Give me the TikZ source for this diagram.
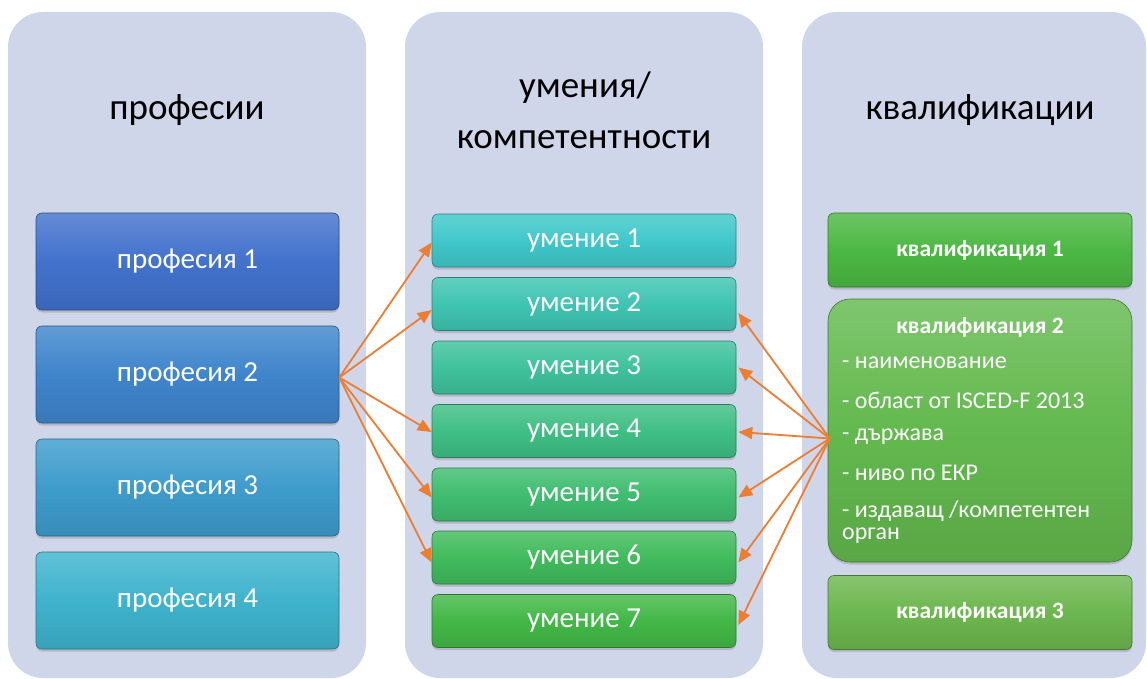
\documentclass[tikz,border=0pt]{standalone}
\usepackage{fontspec}
\setmainfont{Carlito}
\usetikzlibrary{arrows.meta,shadows,calc}
\definecolor{panelc}{HTML}{D0D6EA}
\definecolor{cp1}{HTML}{4272CC}
\definecolor{cp2}{HTML}{3F85CC}
\definecolor{cp3}{HTML}{3E9CCC}
\definecolor{cp4}{HTML}{3FB3CD}
\definecolor{cu1}{HTML}{40C8CA}
\definecolor{cu2}{HTML}{3FC4B3}
\definecolor{cu3}{HTML}{3FC29C}
\definecolor{cu4}{HTML}{3FBF85}
\definecolor{cu5}{HTML}{3FBD70}
\definecolor{cu6}{HTML}{41BB5C}
\definecolor{cu7}{HTML}{42B847}
\definecolor{cq1}{HTML}{4CB843}
\definecolor{cq2}{HTML}{63B94E}
\definecolor{cq3}{HTML}{6DB74F}
\definecolor{arr}{HTML}{ED7D31}
\tikzset{
  panel/.style={fill=panelc, rounded corners=35pt, inner sep=0pt},
  gbox/.style={rounded corners=6pt, top color=#1!82!white, bottom color=#1!90!black,
    middle color=#1, draw=#1!65!black, line width=0.6pt, text=white,
    drop shadow={shadow xshift=0pt, shadow yshift=-2.5pt, opacity=0.35}},
  pbox/.style={gbox=#1, minimum width=303pt, minimum height=97pt,
    font=\fontsize{29}{34}\selectfont},
  ubox/.style={gbox=#1, minimum width=304pt, minimum height=53pt,
    font=\fontsize{29}{34}\selectfont},
  qbox/.style={gbox=#1, minimum width=304pt, minimum height=74pt,
    font=\bfseries\fontsize{23.5}{28}\selectfont},
  ttl/.style={font=\fontsize{37}{42}\selectfont, text=black},
  item/.style={anchor=west, text=white, font=\fontsize{24}{28}\selectfont, inner sep=0pt},
  conn/.style={draw=arr, line width=1.8pt, -{Triangle[length=14pt,width=12pt]}}
}
\begin{document}
\begin{tikzpicture}[x=1pt,y=-1pt]
\useasboundingbox (0,0) rectangle (1147,679);
% panels
\node[panel, minimum width=358pt, minimum height=666pt] (L) at (187,345) {};
\node[panel, minimum width=358pt, minimum height=666pt] (M) at (584,345) {};
\node[panel, minimum width=344pt, minimum height=666pt] (R) at (974,345) {};
% titles
\node[ttl] (tL) at (187,110) {професии};
\node[ttl] (tM1) at (585,88) {умения/};
\node[ttl] (tM2) at (584,140) {компетентности};
\node[ttl] (tR) at (980,110) {квалификации};
% professions
\node[pbox=cp1] (p1) at (187.5,261.5) {професия 1};
\node[pbox=cp2] (p2) at (187.5,374.5) {професия 2};
\node[pbox=cp3] (p3) at (187.5,487.5) {професия 3};
\node[pbox=cp4] (p4) at (187.5,600.5) {професия 4};
% skills
\node[ubox=cu1] (u1) at (584,240.5) {умение 1};
\node[ubox=cu2] (u2) at (584,304) {умение 2};
\node[ubox=cu3] (u3) at (584,367.5) {умение 3};
\node[ubox=cu4] (u4) at (584,431) {умение 4};
\node[ubox=cu5] (u5) at (584,494.5) {умение 5};
\node[ubox=cu6] (u6) at (584,557.5) {умение 6};
\node[ubox=cu7] (u7) at (584,621) {умение 7};
% qualifications
\node[qbox=cq1] (q1) at (980,250) {квалификация 1};
\node[gbox=cq2, rounded corners=22pt, minimum width=304pt, minimum height=263pt] (q2) at (980,430.5) {};
\node[qbox=cq3] (q3) at (980,612.5) {квалификация 3};
\node[text=white, font=\bfseries\fontsize{23.5}{28}\selectfont] (q2t) at (980,327) {квалификация 2};
\node[item] (i1) at (842,363) {- наименование};
\node[item] (i2) at (842,400) {- област от ISCED-F 2013};
\node[item] (i3) at (842,437) {- държава};
\node[item] (i4) at (842,473) {- ниво по ЕКР};
\node[item] (i5) at (842,511) {- издаващ /компетентен};
\node[item] (i6) at (842,536) {орган};
% connectors
\coordinate (ps) at ($(p2.east)+(0,3)$);
\coordinate (qs) at ($(q2.west)+(2,8)$);
\draw[conn] (ps) -- ($(u1.west)+(0,2)$);
\draw[conn] (ps) -- ($(u2.west)+(0,6)$);
\draw[conn] (ps) -- ($(u4.west)+(0,1)$);
\draw[conn] (ps) -- ($(u5.west)+(0,3)$);
\draw[conn] (ps) -- ($(u6.west)+(0,5)$);
\draw[conn] (qs) -- ($(u2.east)+(2,9)$);
\draw[conn] (qs) -- ($(u3.east)+(2,0)$);
\draw[conn] (qs) -- ($(u4.east)+(2,1)$);
\draw[conn] (qs) -- ($(u5.east)+(2,3)$);
\draw[conn] (qs) -- ($(u6.east)+(2,5)$);
\draw[conn] (qs) -- ($(u7.east)+(2,4)$);
\end{tikzpicture}
\end{document}
